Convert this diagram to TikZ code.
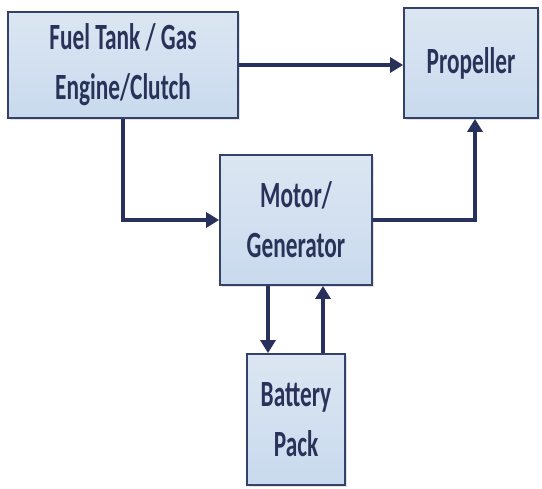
\documentclass[tikz,border=0pt]{standalone}
\usepackage{fontspec}
\setmainfont{Carlito}
\newfontfamily\boxfont[FakeStretch=0.63]{Carlito}
\usetikzlibrary{arrows.meta,shadows}
\definecolor{boxline}{HTML}{34426A}
\definecolor{boxtop}{HTML}{DCE6F2}
\definecolor{boxbot}{HTML}{C9DAEE}
\definecolor{txt}{HTML}{29335A}
\definecolor{arr}{HTML}{27315C}
\begin{document}
\begin{tikzpicture}[x=1pt,y=-1pt,
  blk/.style={draw=boxline, line width=1.8pt, top color=boxtop, bottom color=boxbot,
    inner sep=0pt, font=\boxfont\bfseries\fontsize{37}{50}\selectfont, text=txt, align=center,
    drop shadow={shadow xshift=1.5pt, shadow yshift=-2.5pt, fill=black!22}},
  conn/.style={line width=3.3pt, draw=arr, -{Triangle[length=13pt,width=15pt]}}]
\useasboundingbox (0,0) rectangle (542,489);
\node[blk, minimum width=230pt, minimum height=106pt] (fuel) at (123,65) {Fuel Tank / Gas\\Engine/Clutch};
\node[blk, minimum width=134pt, minimum height=110pt] (prop) at (471,63) {Propeller};
\node[blk, minimum width=152pt, minimum height=130pt] (motor) at (296,220) {Motor/\\Generator};
\node[blk, minimum width=98pt, minimum height=131pt] (batt) at (296,419.5) {Battery\\Pack};
\draw[conn] (fuel.east) -- (fuel.east -| prop.west);
\draw[conn] (fuel.south) -- (fuel.south |- motor.west) -- (motor.west);
\draw[conn] (motor.east) -| ([xshift=4pt]prop.south);
\draw[conn] ([xshift=-28pt]motor.south) -- ([xshift=-28pt]motor.south |- batt.north);
\draw[conn] ([xshift=27pt]batt.north) -- ([xshift=27pt]batt.north |- motor.south);
\end{tikzpicture}
\end{document}
